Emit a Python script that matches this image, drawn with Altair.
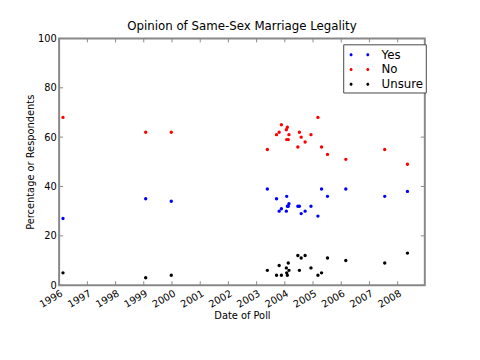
import altair as alt
import pandas as pd

# ---- data ----
poll_dates = ["1996-02-20", "1999-01-26", "1999-12-23", "2003-05-20", "2003-09-16",
              "2003-10-20", "2003-11-18", "2004-01-21", "2004-01-26", "2004-02-03",
              "2004-02-15", "2004-02-24", "2004-06-18", "2004-07-08", "2004-07-31",
              "2004-09-20", "2004-12-05", "2005-03-05", "2005-04-21", "2005-07-07",
              "2006-03-01", "2007-07-18", "2008-05-07"]
yes = [27, 35, 34, 39, 35, 30, 31, 30, 36, 32, 32, 33, 32, 32, 29, 30, 32, 28, 39, 36, 39, 36, 38]
no = [68, 62, 62, 55, 61, 62, 65, 63, 59, 64, 59, 61, 56, 62, 60, 58, 61, 68, 56, 53, 51, 55, 49]
unsure = [5, 3, 4, 6, 4, 8, 4, 7, 5, 4, 9, 6, 12, 6, 11, 12, 7, 4, 5, 11, 10, 9, 13]

responses = ["Yes", "No", "Unsure"]
colors = ["#0000ff", "#ff0000", "#000000"]
year_ticks = list(range(1996, 2009))
y_ticks = [0, 20, 40, 60, 80, 100]

W, H = 372, 251
FRAME = "#888888"
FONT = "DejaVu Sans"

df = pd.DataFrame({"date": poll_dates, "Yes": yes, "No": no, "Unsure": unsure}).melt(
    "date", var_name="response", value_name="pct")
yr_df = pd.DataFrame({"date": [f"{y}-01-01" for y in year_ticks]})
yt_df = pd.DataFrame({"pct": y_ticks})

x_scale = alt.Scale(type="utc", nice=False,
                    domain=[alt.DateTime(year=1996, month=1, date=1, utc=True),
                            alt.DateTime(year=2008, month=12, date=18, utc=True)])
y_scale = alt.Scale(domain=[0, 100], nice=False)

x_axis = alt.Axis(values=[alt.DateTime(year=y, month=1, date=1, utc=True) for y in year_ticks],
                  format="%Y", labelAngle=-30, labelAlign="right", labelBaseline="top",
                  labelPadding=3, ticks=False, domain=False, grid=False,
                  labelFontSize=10, labelColor="black", labelFont=FONT,
                  title="Date of Poll", titleFontSize=10, titleFontWeight="normal",
                  titleColor="black", titleFont=FONT, titlePadding=2)
y_axis = alt.Axis(values=y_ticks, ticks=False, domain=False, grid=False,
                  labelPadding=3, labelFontSize=10, labelColor="black", labelFont=FONT,
                  title="Percentage or Respondents", titleFontSize=10,
                  titleFontWeight="normal", titleColor="black", titleFont=FONT,
                  titlePadding=2)

two_dots = ("M-1.18,0 A0.18,0.18 0 1,0 -0.82,0 A0.18,0.18 0 1,0 -1.18,0 Z "
            "M0.82,0 A0.18,0.18 0 1,0 1.18,0 A0.18,0.18 0 1,0 0.82,0 Z")

points = alt.Chart(df).mark_circle(size=12, opacity=1).encode(
    x=alt.X("date:T", scale=x_scale, axis=x_axis),
    y=alt.Y("pct:Q", scale=y_scale, axis=y_axis),
    color=alt.Color("response:N", scale=alt.Scale(domain=responses, range=colors),
                    legend=alt.Legend(title=None, orient="none", legendX=289, legendY=6,
                                      symbolType=two_dots, symbolSize=289, symbolStrokeWidth=0,
                                      symbolOffset=6, padding=2, rowPadding=0,
                                      labelOffset=14, labelFontSize=12, labelFont=FONT,
                                      labelColor="black", strokeColor="#444444",
                                      fillColor="white")),
)

def xtick(y0, y1):
    return alt.Chart(yr_df).mark_rule(color=FRAME, strokeWidth=1).encode(
        x=alt.X("date:T", scale=x_scale, axis=x_axis), y=alt.value(y0), y2=alt.value(y1))

def ytick(x0, x1):
    return alt.Chart(yt_df).mark_rule(color=FRAME, strokeWidth=1).encode(
        y=alt.Y("pct:Q", scale=y_scale, axis=y_axis), x=alt.value(x0), x2=alt.value(x1))

chart = alt.layer(
    xtick(0, 4), xtick(H, H - 4), ytick(0, 4), ytick(W, W - 4), points
).properties(
    width=W, height=H,
    autosize="none",
    padding={"left": 52, "top": 28, "right": 48, "bottom": 64},
    title=alt.TitleParams("Opinion of Same-Sex Marriage Legality", fontSize=12,
                          fontWeight="normal", font=FONT, color="black", offset=1),
).configure_view(stroke=FRAME, strokeWidth=2)

chart.save("out.html", embed_options={"renderer": "svg", "actions": False})
